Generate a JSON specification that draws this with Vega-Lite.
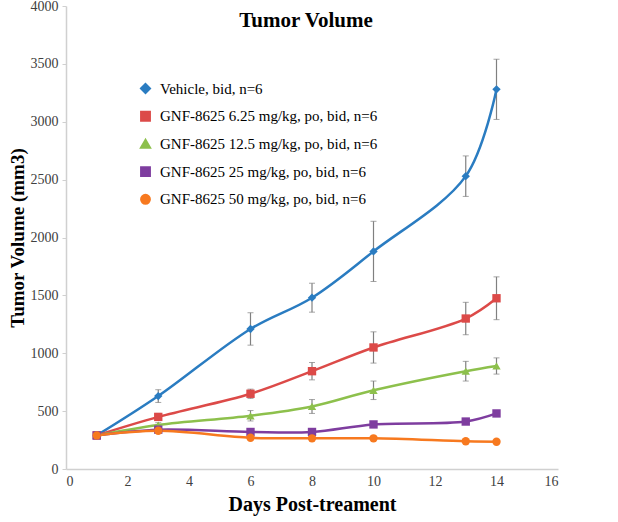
{
  "$schema": "https://vega.github.io/schema/vega-lite/v6.json",
  "autosize": {"type": "none"},
  "padding": {"left": 66, "top": 6, "right": 60, "bottom": 53},
  "width": 492,
  "height": 463,
  "background": "white",
  "config": {"view": {"stroke": null}, "font": "Liberation Serif"},
  "title": {"text": "Tumor Volume", "font": "Liberation Serif", "fontSize": 21, "fontWeight": "bold", "color": "#000000", "offset": -32, "anchor": "middle", "dx": -6},
  "data": {"values": [
    {"day": 1, "series": "Vehicle, bid, n=6", "vol": 290, "err": 15},
    {"day": 3, "series": "Vehicle, bid, n=6", "vol": 630, "err": 55},
    {"day": 6, "series": "Vehicle, bid, n=6", "vol": 1210, "err": 140},
    {"day": 8, "series": "Vehicle, bid, n=6", "vol": 1480, "err": 125},
    {"day": 10, "series": "Vehicle, bid, n=6", "vol": 1880, "err": 260},
    {"day": 13, "series": "Vehicle, bid, n=6", "vol": 2530, "err": 175},
    {"day": 14, "series": "Vehicle, bid, n=6", "vol": 3280, "err": 260},
    {"day": 1, "series": "GNF-8625 6.25 mg/kg, po, bid, n=6", "vol": 290, "err": 15},
    {"day": 3, "series": "GNF-8625 6.25 mg/kg, po, bid, n=6", "vol": 450, "err": 30},
    {"day": 6, "series": "GNF-8625 6.25 mg/kg, po, bid, n=6", "vol": 650, "err": 40},
    {"day": 8, "series": "GNF-8625 6.25 mg/kg, po, bid, n=6", "vol": 845, "err": 75},
    {"day": 10, "series": "GNF-8625 6.25 mg/kg, po, bid, n=6", "vol": 1050, "err": 135},
    {"day": 13, "series": "GNF-8625 6.25 mg/kg, po, bid, n=6", "vol": 1300, "err": 140},
    {"day": 14, "series": "GNF-8625 6.25 mg/kg, po, bid, n=6", "vol": 1475, "err": 185},
    {"day": 1, "series": "GNF-8625 12.5 mg/kg, po, bid, n=6", "vol": 290, "err": 15},
    {"day": 3, "series": "GNF-8625 12.5 mg/kg, po, bid, n=6", "vol": 380, "err": 20},
    {"day": 6, "series": "GNF-8625 12.5 mg/kg, po, bid, n=6", "vol": 460, "err": 45},
    {"day": 8, "series": "GNF-8625 12.5 mg/kg, po, bid, n=6", "vol": 540, "err": 60},
    {"day": 10, "series": "GNF-8625 12.5 mg/kg, po, bid, n=6", "vol": 680, "err": 80},
    {"day": 13, "series": "GNF-8625 12.5 mg/kg, po, bid, n=6", "vol": 845, "err": 85},
    {"day": 14, "series": "GNF-8625 12.5 mg/kg, po, bid, n=6", "vol": 890, "err": 70},
    {"day": 1, "series": "GNF-8625 25 mg/kg, po, bid, n=6", "vol": 290, "err": 15},
    {"day": 3, "series": "GNF-8625 25 mg/kg, po, bid, n=6", "vol": 340, "err": 15},
    {"day": 6, "series": "GNF-8625 25 mg/kg, po, bid, n=6", "vol": 320, "err": 20},
    {"day": 8, "series": "GNF-8625 25 mg/kg, po, bid, n=6", "vol": 320, "err": 20},
    {"day": 10, "series": "GNF-8625 25 mg/kg, po, bid, n=6", "vol": 385, "err": 20},
    {"day": 13, "series": "GNF-8625 25 mg/kg, po, bid, n=6", "vol": 410, "err": 25},
    {"day": 14, "series": "GNF-8625 25 mg/kg, po, bid, n=6", "vol": 480, "err": 25},
    {"day": 1, "series": "GNF-8625 50 mg/kg, po, bid, n=6", "vol": 290, "err": 15},
    {"day": 3, "series": "GNF-8625 50 mg/kg, po, bid, n=6", "vol": 330, "err": 15},
    {"day": 6, "series": "GNF-8625 50 mg/kg, po, bid, n=6", "vol": 270, "err": 15},
    {"day": 8, "series": "GNF-8625 50 mg/kg, po, bid, n=6", "vol": 265, "err": 15},
    {"day": 10, "series": "GNF-8625 50 mg/kg, po, bid, n=6", "vol": 265, "err": 15},
    {"day": 13, "series": "GNF-8625 50 mg/kg, po, bid, n=6", "vol": 240, "err": 15},
    {"day": 14, "series": "GNF-8625 50 mg/kg, po, bid, n=6", "vol": 235, "err": 15}
  ]},
  "encoding": {
    "x": {"field": "day", "type": "quantitative", "scale": {"domain": [0, 16], "nice": false},
      "axis": {"title": "Days Post-treament", "values": [0, 2, 4, 6, 8, 10, 12, 14, 16], "format": "d", "grid": false, "ticks": false, "domainColor": "#d0d0d0", "domainWidth": 1.5, "labelFont": "Liberation Serif", "labelFontSize": 14, "labelColor": "#404040", "labelPadding": 5, "titleFont": "Liberation Serif", "titleFontSize": 20, "titleFontWeight": "bold", "titleColor": "#000000", "titlePadding": 6}},
    "y": {"field": "vol", "type": "quantitative", "scale": {"domain": [0, 4000], "nice": false},
      "axis": {"title": "Tumor Volume (mm3)", "values": [0, 500, 1000, 1500, 2000, 2500, 3000, 3500, 4000], "format": "d", "grid": false, "ticks": true, "tickSize": 4, "tickColor": "#d0d0d0", "domainColor": "#d0d0d0", "domainWidth": 1.5, "labelFont": "Liberation Serif", "labelFontSize": 14, "labelColor": "#404040", "labelPadding": 4, "titleFont": "Liberation Serif", "titleFontSize": 19, "titleFontWeight": "bold", "titleColor": "#000000", "titlePadding": 3}},
    "color": {"field": "series", "type": "nominal",
      "scale": {"domain": ["Vehicle, bid, n=6", "GNF-8625 6.25 mg/kg, po, bid, n=6", "GNF-8625 12.5 mg/kg, po, bid, n=6", "GNF-8625 25 mg/kg, po, bid, n=6", "GNF-8625 50 mg/kg, po, bid, n=6"],
        "range": ["#2a7cc1", "#dc4a48", "#8dc04c", "#7e3d9f", "#f7791f"]},
      "legend": {"title": null, "orient": "none", "legendX": 72, "legendY": 75, "labelFont": "Liberation Serif", "labelFontSize": 15, "labelColor": "#000000", "rowPadding": 8.7, "symbolSize": 70, "labelLimit": 400, "labelOffset": 7, "symbolStrokeWidth": 2.5}}
  },
  "layer": [
    {
      "mark": {"type": "errorbar", "ticks": {"size": 6, "color": "#808080", "thickness": 1}, "rule": {"color": "#808080", "strokeWidth": 1.2}},
      "encoding": {
        "y": {"field": "vol", "type": "quantitative"},
        "yError": {"field": "err"},
        "detail": {"field": "series"},
        "color": {"value": "#808080"}
      }
    },
    {
      "mark": {"type": "line", "interpolate": "catmull-rom", "strokeWidth": 2.5}
    },
    {
      "mark": {"type": "point", "filled": true, "opacity": 1, "size": 70},
      "encoding": {
        "shape": {"field": "series", "type": "nominal",
          "scale": {"domain": ["Vehicle, bid, n=6", "GNF-8625 6.25 mg/kg, po, bid, n=6", "GNF-8625 12.5 mg/kg, po, bid, n=6", "GNF-8625 25 mg/kg, po, bid, n=6", "GNF-8625 50 mg/kg, po, bid, n=6"],
            "range": ["diamond", "square", "triangle-up", "square", "circle"]},
          "legend": {"title": null, "orient": "none", "legendX": 72, "legendY": 75}}
      }
    }
  ]
}
